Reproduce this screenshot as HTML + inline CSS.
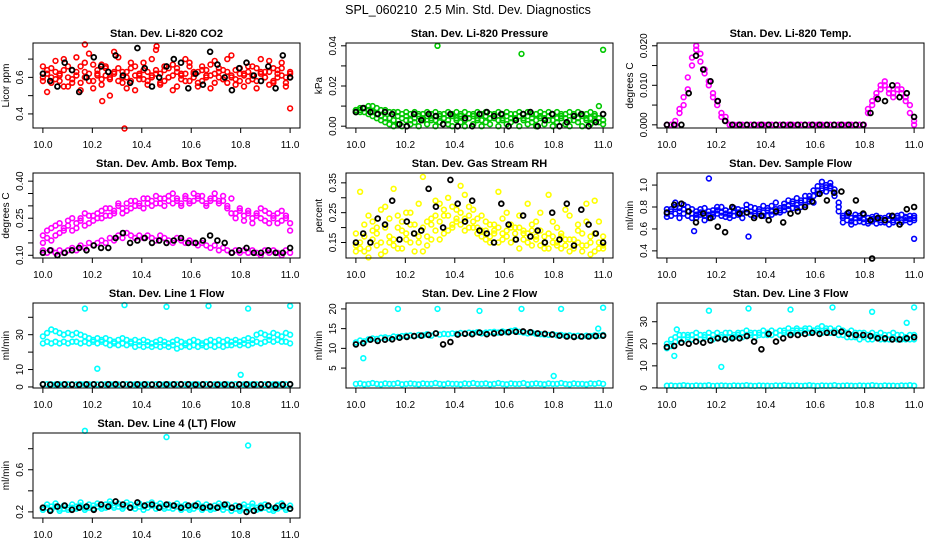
<!DOCTYPE html>
<html><head><meta charset="utf-8"><style>
html,body{margin:0;padding:0;background:#fff;}
svg{display:block;font-family:"Liberation Sans",sans-serif;}
</style></head><body>
<svg id="chart" width="936" height="540" viewBox="0 0 936 540">
<text x="468" y="14" text-anchor="middle" font-size="12.5">SPL_060210&#160;&#160;2.5 Min. Std. Dev. Diagnostics</text>
</svg>
<script>
// ---- data ----
const xTicks = [10.0, 10.2, 10.4, 10.6, 10.8, 11.0];
const xTickLabels = ["10.0","10.2","10.4","10.6","10.8","11.0"];

const co2Red1 = [0.66,0.52,0.60,0.63,0.58,0.70,0.55,0.64,0.61,0.57,0.68,0.73,0.54,0.62,0.59,0.66,0.50,0.63,0.71,0.57,0.60,0.65,0.53,0.62,0.68,0.58,0.61,0.75,0.56,0.64,0.60,0.67,0.55,0.62,0.70,0.58,0.63,0.57,0.66,0.61,0.54,0.69,0.60,0.64,0.57,0.72,0.59,0.62,0.55,0.66,0.61,0.58,0.70,0.63,0.56,0.65,0.60,0.68,0.57,0.62];
const co2Red2 = [0.60,0.64,0.57,0.69,0.62,0.55,0.66,0.59,0.71,0.53,0.63,0.58,0.67,0.61,0.56,0.65,0.60,0.74,0.58,0.63,0.54,0.68,0.61,0.59,0.64,0.56,0.70,0.62,0.57,0.66,0.60,0.53,0.65,0.61,0.58,0.68,0.62,0.55,0.64,0.60,0.67,0.57,0.63,0.59,0.70,0.61,0.56,0.65,0.62,0.58,0.66,0.54,0.63,0.60,0.69,0.57,0.64,0.61,0.55,0.60];
const co2Red3 = [0.58,0.62,0.65,0.59,0.61,0.64,0.60,0.57,0.63,0.66,0.60,0.62,0.58,0.64,0.67,0.61,0.59,0.62,0.65,0.60,0.63,0.58,0.66,0.61,0.59,0.63,0.60,0.64,0.62,0.58,0.65,0.61,0.63,0.59,0.62,0.66,0.60,0.63,0.58,0.64,0.61,0.62,0.65,0.59,0.63,0.60,0.64,0.58,0.61,0.63,0.59,0.65,0.62,0.60,0.63,0.58,0.62,0.65,0.60,0.63];
const co2OutX = [10.33,11.0,10.24,10.17,10.46];
const co2OutY = [0.32,0.43,0.47,0.78,0.77];
const co2Black = [0.62,0.58,0.55,0.68,0.64,0.52,0.60,0.71,0.66,0.63,0.72,0.61,0.57,0.76,0.65,0.55,0.60,0.66,0.70,0.68,0.54,0.62,0.56,0.74,0.67,0.60,0.53,0.65,0.68,0.61,0.58,0.66,0.54,0.72,0.60];

const presGreen1 = [0.008,0.009,0.009,0.010,0.010,0.009,0.008,0.008,0.007,0.007,0.007,0.006,0.007,0.006,0.007,0.006,0.006,0.007,0.006,0.007,0.006,0.006,0.007,0.006,0.007,0.006,0.007,0.006,0.006,0.007,0.006,0.007,0.006,0.006,0.007,0.006,0.007,0.006,0.006,0.007,0.006,0.007,0.006,0.006,0.007,0.006,0.007,0.006,0.007,0.006,0.006,0.007,0.006,0.007,0.006,0.006,0.007,0.006,0.010,0.006];
const presGreen2 = [0.007,0.008,0.007,0.006,0.005,0.004,0.003,0.002,0.001,0.000,0.001,0.000,0.003,0.001,0.002,0.000,0.004,0.001,0.003,0.000,0.002,0.004,0.001,0.000,0.003,0.002,0.000,0.004,0.001,0.003,0.000,0.002,0.001,0.004,0.000,0.003,0.001,0.002,0.004,0.000,0.003,0.001,0.002,0.000,0.004,0.001,0.003,0.000,0.002,0.004,0.001,0.000,0.003,0.002,0.000,0.004,0.001,0.003,0.002,0.001];
const presGreen3 = [0.008,0.007,0.009,0.008,0.007,0.006,0.005,0.004,0.004,0.003,0.005,0.004,0.005,0.003,0.004,0.005,0.003,0.005,0.004,0.003,0.005,0.004,0.003,0.005,0.004,0.005,0.003,0.004,0.005,0.004,0.003,0.005,0.004,0.005,0.003,0.004,0.005,0.004,0.003,0.005,0.004,0.005,0.004,0.003,0.005,0.004,0.005,0.003,0.004,0.005,0.004,0.003,0.005,0.004,0.005,0.003,0.004,0.005,0.004,0.003];
const presOutX = [10.33,10.67,11.0];
const presOutY = [0.040,0.036,0.038];
const presBlack = [0.007,0.009,0.007,0.006,0.007,0.006,0.001,0.000,0.006,0.003,0.006,0.005,0.001,0.006,0.000,0.004,0.000,0.006,0.007,0.005,0.006,0.000,0.003,0.006,0.007,0.000,0.003,0.006,0.000,0.002,0.005,0.006,0.000,0.002,0.006];

const tempMag1 = [0,0,0,0.003,0.005,0.009,0.015,0.019,0.018,0.013,0.010,0.007,0.005,0.002,0.001,0,0,0,0,0,0,0,0,0,0,0,0,0,0,0,0,0,0,0,0,0,0,0,0,0,0,0,0,0,0,0,0,0,0.003,0.006,0.008,0.009,0.010,0.009,0.008,0.009,0.008,0.006,0.003,0];
const tempMag2 = [0,0,0.001,0.004,0.007,0.012,0.017,0.020,0.016,0.014,0.011,0.008,0.006,0.003,0.002,0,0,0,0,0,0,0,0,0,0,0,0,0,0,0,0,0,0,0,0,0,0,0,0,0,0,0,0,0,0,0,0,0,0.004,0.005,0.007,0.010,0.011,0.008,0.007,0.010,0.009,0.007,0.005,0.001];
const tempBlack = [0,0,0,0.008,0.0175,0.014,0.011,0.006,0.001,0,0,0,0,0,0,0,0,0,0,0,0,0,0,0,0,0,0,0,0.003,0.0065,0.006,0.010,0.007,0.008,0.002];

const ambMagUpper = [0.18,0.20,0.16,0.22,0.19,0.21,0.24,0.20,0.23,0.25,0.22,0.26,0.24,0.27,0.25,0.29,0.26,0.28,0.30,0.27,0.31,0.29,0.32,0.30,0.33,0.31,0.32,0.34,0.31,0.33,0.32,0.35,0.33,0.31,0.34,0.32,0.35,0.33,0.34,0.31,0.33,0.35,0.32,0.34,0.30,0.33,0.27,0.29,0.26,0.28,0.25,0.27,0.29,0.24,0.27,0.26,0.23,0.28,0.25,0.20];
const ambMagMid = [0.15,0.17,0.21,0.18,0.23,0.20,0.22,0.25,0.21,0.24,0.27,0.23,0.26,0.25,0.28,0.26,0.29,0.27,0.31,0.29,0.28,0.32,0.30,0.31,0.29,0.33,0.30,0.31,0.33,0.30,0.34,0.31,0.32,0.30,0.33,0.31,0.32,0.34,0.32,0.30,0.32,0.33,0.31,0.32,0.29,0.27,0.25,0.28,0.24,0.27,0.23,0.26,0.25,0.28,0.23,0.25,0.27,0.24,0.26,0.23];
const ambMagLower = [0.12,0.11,0.12,0.11,0.12,0.11,0.12,0.13,0.12,0.14,0.13,0.15,0.14,0.15,0.16,0.15,0.17,0.16,0.18,0.17,0.19,0.18,0.17,0.18,0.17,0.18,0.17,0.16,0.18,0.17,0.16,0.15,0.17,0.16,0.15,0.16,0.15,0.14,0.15,0.14,0.13,0.14,0.12,0.13,0.12,0.11,0.12,0.11,0.12,0.11,0.12,0.11,0.10,0.12,0.11,0.12,0.11,0.10,0.12,0.11];
const ambBlack = [0.11,0.12,0.10,0.11,0.12,0.13,0.12,0.14,0.13,0.13,0.17,0.19,0.15,0.16,0.17,0.15,0.16,0.15,0.16,0.17,0.15,0.15,0.16,0.18,0.16,0.15,0.11,0.12,0.13,0.11,0.11,0.12,0.11,0.11,0.13];

const rhYellow1 = [0.14,0.32,0.12,0.24,0.16,0.20,0.11,0.27,0.15,0.33,0.13,0.22,0.18,0.25,0.12,0.17,0.37,0.14,0.21,0.29,0.16,0.24,0.19,0.27,0.22,0.25,0.31,0.20,0.26,0.23,0.19,0.22,0.17,0.21,0.32,0.18,0.25,0.15,0.20,0.13,0.18,0.28,0.19,0.22,0.14,0.17,0.31,0.15,0.20,0.13,0.16,0.24,0.14,0.19,0.12,0.22,0.15,0.29,0.13,0.17];
const rhYellow2 = [0.18,0.13,0.21,0.10,0.19,0.14,0.26,0.12,0.23,0.16,0.20,0.13,0.25,0.15,0.21,0.28,0.12,0.22,0.16,0.24,0.28,0.18,0.30,0.21,0.26,0.34,0.23,0.27,0.20,0.18,0.24,0.16,0.21,0.19,0.15,0.23,0.17,0.20,0.16,0.24,0.19,0.15,0.21,0.17,0.25,0.13,0.18,0.22,0.14,0.17,0.26,0.12,0.16,0.21,0.14,0.28,0.11,0.18,0.22,0.14];
const rhYellow3 = [0.12,0.15,0.17,0.13,0.22,0.18,0.15,0.20,0.17,0.14,0.24,0.19,0.16,0.21,0.18,0.15,0.20,0.17,0.23,0.19,0.22,0.26,0.24,0.20,0.23,0.21,0.19,0.24,0.22,0.20,0.17,0.19,0.15,0.18,0.20,0.16,0.19,0.21,0.18,0.20,0.16,0.18,0.14,0.16,0.19,0.15,0.13,0.17,0.15,0.18,0.14,0.16,0.13,0.15,0.18,0.14,0.17,0.12,0.15,0.13];
const rhBlack = [0.15,0.18,0.15,0.23,0.21,0.29,0.16,0.22,0.18,0.19,0.33,0.27,0.20,0.36,0.28,0.22,0.29,0.19,0.18,0.15,0.28,0.21,0.16,0.24,0.17,0.19,0.15,0.25,0.16,0.28,0.14,0.26,0.21,0.18,0.15];

const flowBlue1 = [0.74,0.78,0.80,0.76,0.82,0.72,0.78,0.70,0.75,0.68,0.73,0.77,0.74,0.80,0.71,0.76,0.72,0.78,0.70,0.75,0.80,0.74,0.78,0.72,0.77,0.81,0.75,0.79,0.83,0.78,0.85,0.82,0.80,0.86,0.90,0.84,0.92,0.95,0.98,1.02,0.96,0.80,0.72,0.68,0.70,0.66,0.72,0.69,0.67,0.71,0.65,0.70,0.68,0.72,0.66,0.70,0.68,0.71,0.69,0.72];
const flowBlue2 = [0.78,0.72,0.84,0.79,0.74,0.80,0.70,0.76,0.73,0.79,0.70,0.74,0.80,0.72,0.77,0.70,0.79,0.73,0.77,0.82,0.73,0.79,0.74,0.81,0.72,0.76,0.84,0.77,0.80,0.86,0.79,0.88,0.84,0.90,0.87,0.95,0.99,1.03,1.00,0.97,0.90,0.76,0.66,0.72,0.64,0.70,0.67,0.73,0.65,0.69,0.72,0.66,0.70,0.64,0.71,0.67,0.73,0.68,0.72,0.70];
const flowBlue3 = [0.71,0.76,0.74,0.70,0.78,0.76,0.74,0.73,0.78,0.72,0.76,0.71,0.77,0.75,0.74,0.73,0.76,0.75,0.74,0.78,0.76,0.72,0.76,0.75,0.79,0.73,0.78,0.75,0.77,0.81,0.83,0.79,0.86,0.82,0.85,0.90,0.95,0.97,0.94,0.99,0.93,0.84,0.70,0.74,0.67,0.73,0.70,0.66,0.70,0.67,0.69,0.68,0.66,0.69,0.68,0.72,0.66,0.70,0.66,0.68];
const flowOutX = [10.17,10.33,11.0,10.11];
const flowOutY = [1.06,0.53,0.51,0.58];
const flowBlack = [0.75,0.82,0.83,0.76,0.66,0.74,0.70,0.62,0.57,0.80,0.74,0.75,0.70,0.72,0.68,0.76,0.66,0.74,0.76,0.80,0.85,0.92,0.86,0.93,0.94,0.75,0.86,0.74,0.68,0.70,0.68,0.72,0.64,0.78,0.80];
const flowBlackOutX = [10.83];
const flowBlackOutY = [0.33];

const l1Upper = [29,31,33,32,31,30,31,30,31,30,29,28,27,28,27,28,27,26,27,28,27,26,27,26,27,26,25,26,27,26,25,26,27,26,25,26,27,26,25,26,27,26,27,26,27,26,27,26,27,28,27,30,31,30,29,31,30,29,31,30];
const l1Lower = [25,26,25,26,25,26,25,26,26,25,26,25,26,25,26,25,24,25,24,25,24,25,23,24,23,24,23,24,23,24,23,24,22,23,24,23,24,23,24,23,24,23,24,23,24,24,25,24,25,24,25,26,25,26,27,26,27,26,26,25];
const l1Bottom = [1.5,1.6,1.5,1.4,1.5,1.6,1.5,1.5,1.4,1.6,1.5,1.5,1.6,1.4,1.5,1.5,1.6,1.5,1.4,1.5,1.6,1.5,1.5,1.4,1.6,1.5,1.5,1.6,1.5,1.4,1.5,1.6,1.5,1.4,1.5,1.6,1.5,1.5,1.4,1.6,1.5,1.5,1.6,1.4,1.5,1.5,1.6,1.5,1.4,1.5,1.6,1.5,1.5,1.4,1.6,1.5,1.5,1.6,1.5,1.4];
const l1OutX = [10.17,10.33,10.5,10.67,10.83,11.0,10.22,10.8];
const l1OutY = [45,47,46,46.5,45,46.5,10.5,7];
const l1Black = [1.5,1.4,1.5,1.5,1.4,1.3,1.5,1.5,1.4,1.5,1.6,1.5,1.4,1.5,1.5,1.4,1.5,1.5,1.5,1.6,1.5,1.4,1.5,1.5,1.4,1.5,1.2,1.5,1.5,1.4,1.5,1.5,1.3,1.5,1.6];

const l2Upper = [11.5,12,11.8,12.3,12.5,12.4,12.7,12.8,12.6,13,12.9,13.1,13.2,13.3,13.1,13.4,13.3,13.6,13.2,13.8,13.5,13.7,13.6,13.8,13.7,13.9,13.8,14,13.9,14.1,13.8,14,14.1,14.2,14,14.3,14.1,14.4,14.6,14.2,14,13.8,14,13.7,13.6,13.5,13.4,13.6,13.3,13.4,13.2,13.3,13.1,13.2,13,13.2,13.1,13.3,13.2,13.4];
const l2Bottom = [1,1.1,0.9,1,1.2,1,0.9,1.1,1,1,1.2,0.9,1,1.1,1,0.9,1.1,1,1,1.2,1,0.9,1.1,1,1,0.9,1.1,1,1.2,1,1,1.1,0.9,1,1.2,1,0.9,1.1,1,1,1.2,0.9,1,1.1,1,0.9,1.1,1,1,1.2,1,0.9,1.1,1,1,0.9,1.1,1,1.2,1];
const l2OutX = [10.17,10.33,10.5,10.67,10.83,11.0,10.03,10.8,10.98];
const l2OutY = [20,20,19.5,20,20,20.3,7.5,3,15];
const l2Black = [11,11.3,12.2,11.9,12.2,12.3,12.7,12.9,13.1,13.2,13.4,13.8,11,11.6,13.5,13.7,13.6,14,13.6,13.8,14,14.1,14.2,14.3,14.1,13.8,13.7,13.5,13.2,13,12.9,13,13,13.1,13.2];

const l3Upper = [20,22,23,24,24,24,24,25,24,24,25,24,25,24,25,25,24,25,25,26,25,25,25,26,25,26,25,26,26,27,26,27,26,27,27,26,27,28,27,27,26,27,26,25,26,25,25,25,24,25,24,25,24,24,25,24,24,23,24,24];
const l3Lower = [18,19,21,22,22,23,22,23,22,23,23,22,23,23,22,23,23,24,23,24,24,23,24,24,24,24,25,24,25,25,25,26,25,26,25,26,26,25,26,25,25,24,24,23,23,23,22,23,22,22,23,22,22,22,23,22,22,22,22,22];
const l3Bottom = [1,1.1,0.9,1,1.2,1,0.9,1.1,1,1,1.2,0.9,1,1.1,1,0.9,1.1,1,1,1.2,1,0.9,1.1,1,1,0.9,1.1,1,1.2,1,1,1.1,0.9,1,1.2,1,0.9,1.1,1,1,1.2,0.9,1,1.1,1,0.9,1.1,1,1,1.2,1,0.9,1.1,1,1,0.9,1.1,1,1.2,1];
const l3OutX = [10.17,10.33,10.5,10.67,10.83,11.0,10.03,10.22,10.97,10.04];
const l3OutY = [35,36,35.5,36.5,34.5,36.5,14.5,9.5,29.5,26.5];
const l3Black = [18.5,19,20.5,20,21,20.5,21.5,22.5,22,22.5,22.5,23.5,21,17.5,24.5,21,22.5,24,24,24.5,25,24.5,25,25,25.5,24.5,24,24,23.5,22.5,22.5,22,22,22.5,23];

const l4Cyan1 = [0.24,0.27,0.25,0.28,0.23,0.26,0.24,0.27,0.25,0.29,0.24,0.27,0.26,0.28,0.25,0.27,0.30,0.26,0.28,0.25,0.29,0.27,0.26,0.28,0.25,0.27,0.29,0.26,0.28,0.25,0.27,0.26,0.28,0.25,0.27,0.24,0.26,0.28,0.25,0.27,0.24,0.26,0.28,0.25,0.27,0.24,0.26,0.23,0.27,0.25,0.28,0.24,0.26,0.27,0.25,0.23,0.26,0.28,0.24,0.26];
const l4Cyan2 = [0.22,0.24,0.22,0.25,0.21,0.23,0.22,0.24,0.23,0.26,0.22,0.24,0.23,0.25,0.23,0.24,0.27,0.24,0.25,0.23,0.26,0.24,0.23,0.25,0.22,0.24,0.26,0.23,0.25,0.23,0.24,0.23,0.25,0.22,0.24,0.22,0.23,0.25,0.22,0.24,0.22,0.23,0.25,0.22,0.24,0.21,0.23,0.21,0.24,0.22,0.25,0.22,0.23,0.24,0.22,0.21,0.23,0.25,0.22,0.23];
const l4OutX = [10.17,10.5,10.83];
const l4OutY = [0.97,0.91,0.83];
const l4Black = [0.24,0.21,0.25,0.26,0.22,0.24,0.25,0.22,0.27,0.25,0.30,0.27,0.24,0.29,0.26,0.27,0.24,0.27,0.26,0.24,0.26,0.26,0.24,0.25,0.24,0.27,0.24,0.25,0.20,0.21,0.24,0.26,0.24,0.26,0.23];

// ---- drawing ----
const NS = "http://www.w3.org/2000/svg";
const svg = document.getElementById("chart");
const W = 267, H = 85, XLO = 9.96, XHI = 11.04;
function mk(tag, attrs, parent){
  const e = document.createElementNS(NS, tag);
  for (const k in attrs) e.setAttribute(k, attrs[k]);
  (parent || svg).appendChild(e);
  return e;
}
function seq(ys){ return ys.map((_, i) => 10 + i / (ys.length - 1)); }

function drawPanel(p){
  const g = mk("g", {});
  
  
  const L = p.L, T = p.T;
  const sx = x => L + (x - XLO) / (XHI - XLO) * W;
  const sy = y => T + H - (y - p.ylo) / (p.yhi - p.ylo) * H;
  const t = mk("text", {x: L + W/2, y: T - 6, "text-anchor": "middle", "font-size": "11", "font-weight": "bold"}, g);
  t.textContent = p.title;
  
  
  p.series.forEach(s => {
    const xs = s.xs || seq(s.ys);
    const black = s.color === "#000";
    s.ys.forEach((v, i) => {
      const c = mk("circle", {cx: sx(xs[i]).toFixed(1), cy: sy(v).toFixed(1), r: 2.4, fill: "none", stroke: s.color, "stroke-width": black ? 1.8 : 1.6}, g);
      
      
    });
  });
  const box = mk("rect", {x: L, y: T, width: W, height: H, fill: "none", stroke: "#000", "stroke-width": 1}, g);
  
  
  const xa = mk("g", {}, g);
  
  
  mk("line", {x1: sx(xTicks[0]), x2: sx(xTicks[xTicks.length-1]), y1: T+H, y2: T+H, stroke: "#000"}, xa);
  xTicks.forEach((v, i) => {
    mk("line", {x1: sx(v), x2: sx(v), y1: T+H, y2: T+H+5, stroke: "#000"}, xa);
    const tl = mk("text", {x: sx(v), y: T+H+20, "text-anchor": "middle", "font-size": "10"}, xa);
    tl.textContent = xTickLabels[i];
  });
  const ya = mk("g", {}, g);
  
  
  mk("line", {x1: L, x2: L, y1: sy(p.yTicks[0]), y2: sy(p.yTicks[p.yTicks.length-1]), stroke: "#000"}, ya);
  p.yTicks.forEach((v, i) => {
    mk("line", {x1: L-5, x2: L, y1: sy(v), y2: sy(v), stroke: "#000"}, ya);
    const lab = p.yLabels[i];
    if (lab) {
      const yy = sy(v), xx = L - 10;
      const tl = mk("text", {x: xx, y: yy, "text-anchor": "middle", "font-size": "10", transform: `rotate(-90 ${xx} ${yy})`}, ya);
      tl.textContent = lab;
    }
  });
  const yt = L - 24, ym = T + H/2;
  const ytl = mk("text", {x: yt, y: ym, "text-anchor": "middle", "font-size": "10", transform: `rotate(-90 ${yt} ${ym})`}, g);
  ytl.textContent = p.ytitle;
  
  
}

const C1 = 33, C2 = 346, C3 = 657, R1 = 43, R2 = 173, R3 = 303, R4 = 433;
const panels = [
  {name:"co2", title:"Stan. Dev. Li-820 CO2", ytitle:"Licor ppm", L:C1, T:R1, ylo:0.323, yhi:0.788,
   yTicks:[0.4,0.5,0.6,0.7], yLabels:["0.4","","0.6",""],
   series:[{ys:co2Red1,color:"#ff0000"},{ys:co2Red2,color:"#ff0000"},{ys:co2Red3,color:"#ff0000"},{xs:co2OutX,ys:co2OutY,color:"#ff0000"},{ys:co2Black,color:"#000"}]},
  {name:"pressure", title:"Stan. Dev. Li-820 Pressure", ytitle:"kPa", L:C2, T:R1, ylo:-0.0009, yhi:0.0414,
   yTicks:[0,0.01,0.02,0.03,0.04], yLabels:["0.00","","0.02","","0.04"],
   series:[{ys:presGreen1,color:"#00c800"},{ys:presGreen2,color:"#00c800"},{ys:presGreen3,color:"#00c800"},{xs:presOutX,ys:presOutY,color:"#00c800"},{ys:presBlack,color:"#000"}]},
  {name:"li820-temp", title:"Stan. Dev. Li-820 Temp.", ytitle:"degrees C", L:C3, T:R1, ylo:-0.0008, yhi:0.0207,
   yTicks:[0,0.005,0.01,0.015,0.02], yLabels:["0.000","","0.010","","0.020"],
   series:[{ys:tempMag1,color:"#ff00ff"},{ys:tempMag2,color:"#ff00ff"},{ys:tempBlack,color:"#000"}]},
  {name:"amb-box-temp", title:"Stan. Dev. Amb. Box Temp.", ytitle:"degrees C", L:C1, T:R2, ylo:0.089, yhi:0.433,
   yTicks:[0.10,0.15,0.20,0.25,0.30,0.35,0.40], yLabels:["0.10","","","0.25","","","0.40"],
   series:[{ys:ambMagUpper,color:"#ff00ff"},{ys:ambMagMid,color:"#ff00ff"},{ys:ambMagLower,color:"#ff00ff"},{ys:ambBlack,color:"#000"}]},
  {name:"gas-stream-rh", title:"Stan. Dev. Gas Stream RH", ytitle:"percent", L:C2, T:R2, ylo:0.098, yhi:0.383,
   yTicks:[0.15,0.20,0.25,0.30,0.35], yLabels:["0.15","","0.25","","0.35"],
   series:[{ys:rhYellow1,color:"#ffff00"},{ys:rhYellow2,color:"#ffff00"},{ys:rhYellow3,color:"#ffff00"},{ys:rhBlack,color:"#000"}]},
  {name:"sample-flow", title:"Stan. Dev. Sample Flow", ytitle:"ml/min", L:C3, T:R2, ylo:0.335, yhi:1.11,
   yTicks:[0.4,0.6,0.8,1.0], yLabels:["0.4","0.6","0.8","1.0"],
   series:[{ys:flowBlue1,color:"#0000ff"},{ys:flowBlue2,color:"#0000ff"},{ys:flowBlue3,color:"#0000ff"},{xs:flowOutX,ys:flowOutY,color:"#0000ff"},{ys:flowBlack,color:"#000"},{xs:flowBlackOutX,ys:flowBlackOutY,color:"#000"}]},
  {name:"line1-flow", title:"Stan. Dev. Line 1 Flow", ytitle:"ml/min", L:C1, T:R3, ylo:-0.6, yhi:48.2,
   yTicks:[0,10,20,30,40], yLabels:["0","10","","30",""],
   series:[{ys:l1Upper,color:"#00ffff"},{ys:l1Lower,color:"#00ffff"},{ys:l1Bottom,color:"#00ffff"},{xs:l1OutX,ys:l1OutY,color:"#00ffff"},{ys:l1Black,color:"#000"}]},
  {name:"line2-flow", title:"Stan. Dev. Line 2 Flow", ytitle:"ml/min", L:C2, T:R3, ylo:-0.05, yhi:21.5,
   yTicks:[5,10,15,20], yLabels:["5","10","15","20"],
   series:[{ys:l2Upper,color:"#00ffff"},{ys:l2Bottom,color:"#00ffff"},{xs:l2OutX,ys:l2OutY,color:"#00ffff"},{ys:l2Black,color:"#000"}]},
  {name:"line3-flow", title:"Stan. Dev. Line 3 Flow", ytitle:"ml/min", L:C3, T:R3, ylo:-0.05, yhi:38.5,
   yTicks:[0,10,20,30], yLabels:["0","10","20","30"],
   series:[{ys:l3Upper,color:"#00ffff"},{ys:l3Lower,color:"#00ffff"},{ys:l3Bottom,color:"#00ffff"},{xs:l3OutX,ys:l3OutY,color:"#00ffff"},{ys:l3Black,color:"#000"}]},
  {name:"line4-flow", title:"Stan. Dev. Line 4 (LT) Flow", ytitle:"ml/min", L:C1, T:R4, ylo:0.142, yhi:0.949,
   yTicks:[0.2,0.4,0.6,0.8], yLabels:["0.2","","0.6",""],
   series:[{ys:l4Cyan1,color:"#00ffff"},{ys:l4Cyan2,color:"#00ffff"},{xs:l4OutX,ys:l4OutY,color:"#00ffff"},{ys:l4Black,color:"#000"}]}
];
panels.forEach(drawPanel);
</script>
</body></html>
